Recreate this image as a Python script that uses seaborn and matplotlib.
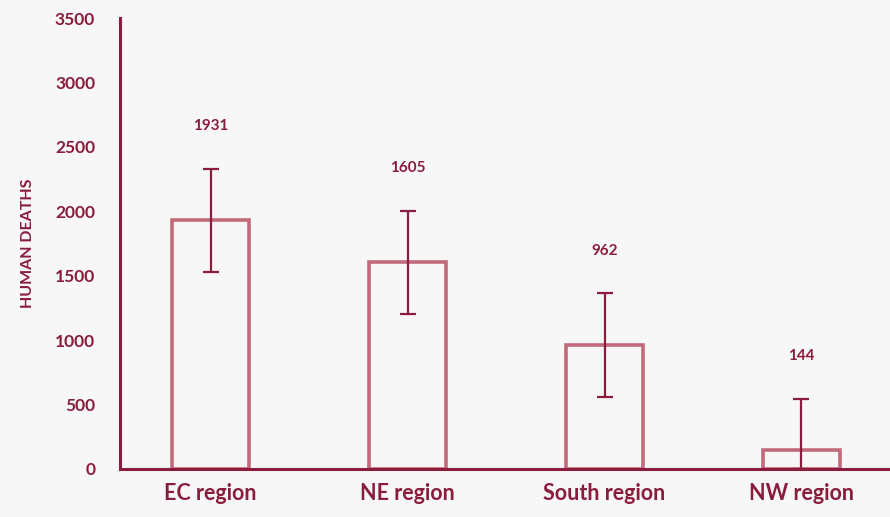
import matplotlib.pyplot as plt
import seaborn as sns
import pandas as pd

# values
regions = ['EC region', 'NE region', 'South region', 'NW region']
deaths = [1931, 1605, 962, 144]
err = [400, 400, 400, 400]

dark = '#8a1c3c'
edge = '#c26a7a'

sns.set_style('white')
plt.rcParams['font.family'] = ['Lato', 'DejaVu Sans']

df = pd.DataFrame({'Region': regions, 'Deaths': deaths})

fig = plt.figure(figsize=(8.9, 5.17), dpi=100, facecolor='#f7f7f7')
ax = fig.add_axes([0.135, 0.093, 0.865, 0.872])
ax.set_facecolor('#f7f7f7')

sns.barplot(data=df, x='Region', y='Deaths', ax=ax, fill=False, width=0.39,
            edgecolor=edge, linewidth=2.6, errorbar=None)

# error bars, clipped at zero
lower = [min(e, d) for e, d in zip(err, deaths)]
ax.errorbar(range(len(regions)), deaths, yerr=[lower, err], fmt='none',
            ecolor=dark, elinewidth=1.6, capsize=6, capthick=1.6)

# value labels above the error bars
for i, (d, e) in enumerate(zip(deaths, err)):
    ax.text(i, d + e + 330, str(d), ha='center', va='center', color=dark,
            fontsize=11, fontweight='bold')

ax.set_ylim(0, 3500)
ax.set_xlim(-0.46, 3.45)
ax.set_yticks(range(0, 3501, 500))
ax.set_xlabel('')
ax.set_ylabel('HUMAN DEATHS', color=dark, fontsize=11.5, fontweight='bold', labelpad=14)
ax.tick_params(axis='y', colors=dark, labelsize=12.5, length=0, pad=18)
ax.tick_params(axis='x', colors=dark, labelsize=15.5, length=0, pad=10)
for lab in ax.get_xticklabels() + ax.get_yticklabels():
    lab.set_fontweight('bold')

sns.despine(ax=ax)
for s in ['left', 'bottom']:
    ax.spines[s].set_color(dark)
    ax.spines[s].set_linewidth(2.2)

plt.savefig('out.png', dpi=100, facecolor=fig.get_facecolor())
